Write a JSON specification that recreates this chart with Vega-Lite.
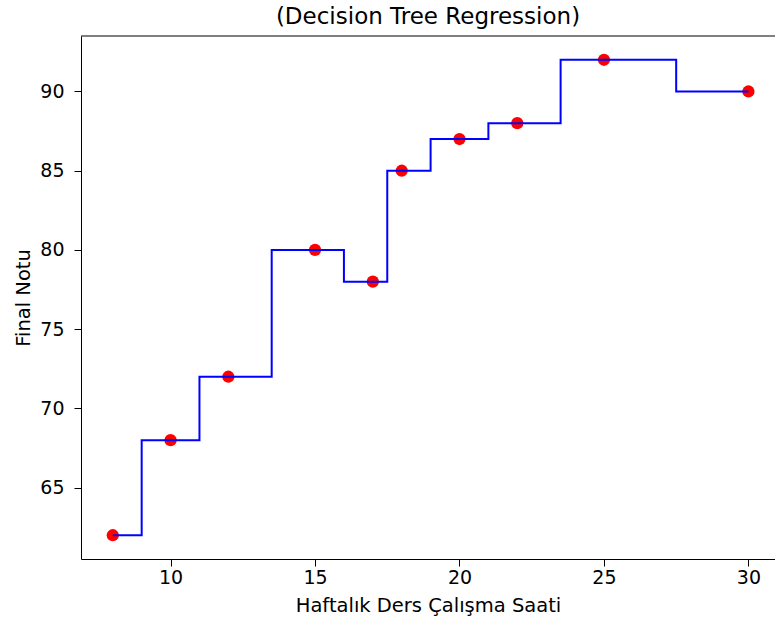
{
  "$schema": "https://vega.github.io/schema/vega-lite/v6.json",
  "autosize": "none",
  "width": 694,
  "height": 523,
  "padding": {"left": 81, "top": 36, "right": 0, "bottom": 64},
  "background": "white",
  "title": {"text": "(Decision Tree Regression)", "font": "DejaVu Sans", "fontSize": 23, "fontWeight": "normal", "color": "#000000", "offset": 7},
  "config": {
    "view": {"stroke": null},
    "axis": {"labelFont": "DejaVu Sans", "titleFont": "DejaVu Sans", "labelFontSize": 19, "titleFontSize": 19.5, "titleFontWeight": "normal", "labelColor": "#000", "titleColor": "#000", "domainColor": "#000", "tickColor": "#000", "tickSize": 7, "grid": false}
  },
  "datasets": {
    "points": [
      {"saat": 8, "not": 62}, {"saat": 10, "not": 68}, {"saat": 12, "not": 72}, {"saat": 15, "not": 80}, {"saat": 17, "not": 78},
      {"saat": 18, "not": 85}, {"saat": 20, "not": 87}, {"saat": 22, "not": 88}, {"saat": 25, "not": 92}, {"saat": 30, "not": 90}
    ],
    "steps": [
      {"saat": 8, "tahmin": 62}, {"saat": 9, "tahmin": 68}, {"saat": 11, "tahmin": 72}, {"saat": 13.5, "tahmin": 80},
      {"saat": 16, "tahmin": 78}, {"saat": 17.5, "tahmin": 85}, {"saat": 19, "tahmin": 87}, {"saat": 21, "tahmin": 88},
      {"saat": 23.5, "tahmin": 92}, {"saat": 27.5, "tahmin": 90}, {"saat": 30, "tahmin": 90}
    ],
    "frame": [{"top": 93.5}]
  },
  "layer": [
    {
      "data": {"name": "points"},
      "mark": {"type": "point", "filled": true, "color": "#ff0000", "opacity": 1, "size": 150},
      "encoding": {
        "x": {"field": "saat", "type": "quantitative", "scale": {"domain": [6.9, 30.92], "nice": false, "zero": false}, "axis": {"values": [10, 15, 20, 25, 30], "title": "Haftalık Ders Çalışma Saati", "labelPadding": 2, "titlePadding": 9}},
        "y": {"field": "not", "type": "quantitative", "scale": {"domain": [60.5, 93.5], "nice": false, "zero": false}, "axis": {"values": [65, 70, 75, 80, 85, 90], "title": "Final Notu", "labelPadding": 10, "titlePadding": 6}}
      }
    },
    {
      "data": {"name": "steps"},
      "mark": {"type": "line", "interpolate": "step-after", "color": "#0000ff", "strokeWidth": 2},
      "encoding": {
        "x": {"field": "saat", "type": "quantitative"},
        "y": {"field": "tahmin", "type": "quantitative"}
      }
    },
    {
      "data": {"name": "frame"},
      "mark": {"type": "rule", "color": "#000000", "strokeWidth": 1},
      "encoding": {"y": {"field": "top", "type": "quantitative"}}
    }
  ]
}
